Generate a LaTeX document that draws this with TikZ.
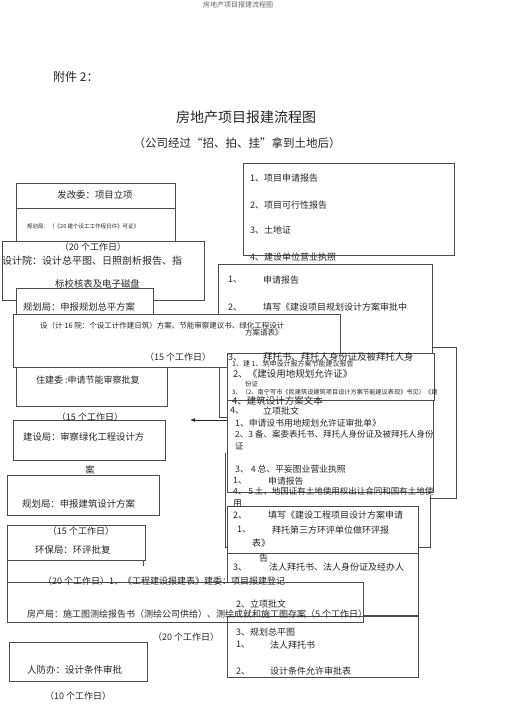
\documentclass[tikz,border=0pt]{standalone}
\usepackage{fontspec}
\setmainfont{Noto Sans CJK SC}
\usetikzlibrary{fit,arrows.meta}

\begin{document}
\begin{tikzpicture}[
  x=1pt, y=-1pt,
  box/.style={draw=black!70, line width=0.7pt, fill=white, inner sep=0pt},
  openbox/.style={box, fill=none},
  edge/.style={draw=black!70, line width=0.7pt},
  lbl/.style={anchor=west, inner sep=0pt, text=black!85, font=\fontsize{9}{10}\selectfont},
  lblc/.style={lbl, anchor=center},
  fs/.style={font=\fontsize{#1}{#1}\selectfont},
  arr/.style={draw=black!85, line width=0.8pt, -{Latex[length=5pt,width=4pt]}}
]

  \fill[white] (0,0) rectangle (505,714);
  \useasboundingbox (0,0) rectangle (505,714);

  % left column, top
  \node[box, fit={(16,183) (175,208)}] (fgw) {};
  \node[box, fit={(16,208) (175,245)}] (ghjA) {};
  \node[box, fit={(2,241) (204,300)}] (sjy) {};
  \node[box, fit={(16,288) (153,320)}] (ghjB) {};

  % right column, top
  \node[box, fit={(243,163) (454,255)}] (docs) {};
  \draw[edge] (219,367) |- (227,417);
  \draw[edge] (432,347) -| (456,498) -- (430,498);
  \node[box, fit={(218,264) (432,353)}] (sqA) {};
  \node[box, fit={(13,314) (340,367)}] (sjyB) {};
  \node[box, fit={(227,353) (434,400)}] (jnA) {};
  \node[box, fit={(227,400) (433,492)}] (lx) {};
  \draw[edge] (225,453) |- (430,547) -- (430,495);
  \node[box, fit={(227,506) (418,553)}] (hp) {};
  \node[box, fit={(227,553) (418,615)}] (frA) {};

  % left column, lower
  \node[box, fit={(16,367) (167,406)}] (zjw) {};
  \node[box, fit={(13,420) (165,460)}] (jsj) {};
  \node[box, fit={(7,475) (159,515)}] (ghjC) {};
  \node[box, fit={(7,525) (145,560)}] (hbj) {};
  \draw[edge] (143,566) |- (7,560) -- (7,603);
  \node[box, fit={(7,582) (363,622)}] (fcj) {};
  \node[openbox, fit={(227,616) (418,677)}] (ghzp) {};
  \node[box, fit={(9,642) (147,681)}] (rfb) {};

  \coordinate (arrEnd) at (190,420);
  \draw[arr] (lx.west |- arrEnd) -- (arrEnd);

  % heading
  \node[lblc, fs=7, text=black!60] (hdr) at (238,5) {房地产项目报建流程图};
  \node[lbl, fs=12] (att) at (53,77) {附件 2：};
  \node[lblc, fs=14] (ttl) at (246,117) {房地产项目报建流程图};
  \node[lblc, fs=11.5] (sub) at (237,143) {（公司经过“招、拍、挂”拿到土地后）};

  % texts, right column
  \node[lbl] (docs1) at (250,178) {1、项目申请报告};
  \node[lbl] (docs2) at (250,205) {2、项目可行性报告};
  \node[lbl] (docs3) at (250,230) {3、土地证};
  \node[lbl] (docs4) at (250,257) {4、建设单位营业执照};

  \node[lbl] (sqA1n) at (228,280) {1、};
  \node[lbl] (sqA1) at (263,280) {申请报告};
  \node[lbl] (sqA2n) at (228,307) {2、};
  \node[lbl] (sqA2) at (263,307) {填写《建设项目规划设计方案审批中};
  \node[lbl] (sqA3n) at (228,357) {3、};
  \node[lbl, fs=9.4] (sqA3) at (263,357) {拜托书、拜托人身份证及被拜托人身};

  \node[lbl, fs=7] (jnA1) at (232,364) {1、建 1、筑申设计报方案节能建议报告};
  \node[lbl, fs=9.5] (jnA2) at (233,374) {2、《建设用地规划允许证》};
  \node[lbl, fs=6.5] (jnA3) at (245,384) {份证};
  \node[lbl, fs=6.2] (jnA4) at (232,392) {3、（2、南宁写市《民建筑设建筑项目设计方案节能建议表现》书见）《建};

  \node[lbl, fs=9.5] (lx0) at (232,401) {4、建筑设计方案文本};
  \node[lbl] (lx1n) at (230,411) {4、};
  \node[lbl] (lx1) at (263,411) {立项批文};
  \node[lbl, fs=8.8] (lx2) at (235,423) {1、申请设书用地规划允许证审批单》};
  \node[lbl, fs=8.5] (lx3) at (235,434) {2、3 备、案委表托书、拜托人身份证及被拜托人身份};
  \node[lbl, fs=8.5] (lx3b) at (235,446) {证};
  \node[lbl, fs=8.8] (lx4) at (235,469) {3、 4 总、平妄图业营业执照};
  \node[lbl, fs=8.8] (lx5n) at (233,481) {1、};
  \node[lbl, fs=8.8] (lx5) at (268,481) {申请报告};
  \node[lbl, fs=8.5] (lx6) at (233,491) {4、 5 土、地国证有土地使用权出让合同和国有土地使};
  \node[lbl, fs=8.8] (lx6b) at (233,503) {用};

  \node[lbl] (hp1n) at (233,515) {2、};
  \node[lbl] (hp1) at (268,515) {填写《建设工程项目设计方案申请};
  \node[lbl] (hp2n) at (237,530) {1、};
  \node[lbl] (hp2) at (272,530) {拜托第三方环评单位做环评报};
  \node[lbl] (hp3) at (252,543) {表》};
  \node[lbl] (frA0) at (259,558) {告};
  \node[lbl] (frA1n) at (233,567) {3、};
  \node[lbl] (frA1) at (269,567) {法人拜托书、法人身份证及经办人};

  \node[lbl] (ghzp1) at (236,632) {3、规划总平图};
  \node[lbl] (ghzp2n) at (236,645) {1、};
  \node[lbl] (ghzp2) at (270,645) {法人拜托书};
  \node[lbl] (ghzp3n) at (236,671) {2、};
  \node[lbl] (ghzp3) at (270,671) {设计条件允许审批表};

  % texts, left column
  \node[lblc, fs=9.4] (fgw1) at (95,195) {发改委：项目立项};
  \node[lbl, fs=5.5] (ghjA1) at (27,226) {规划局：（《20 建个设工工作程日许》可证》};
  \node[lblc] (sjy0) at (93,247) {（20 个工作日）};
  \node[lbl, fs=10] (sjy1) at (2,261) {设计院：设计总平图、日照剖析报告、指};
  \node[lbl, fs=9.4] (sjy2) at (55,284) {标校核表及电子磁盘};
  \node[lbl, fs=9.3] (ghjB1) at (23,307) {规划局：申报规划总平方案};
  \node[lbl, fs=7.5] (sjyB1) at (40,326) {设（计 16 院：个设工计作建日筑）方案、节能审察建议书、绿化工程设计};
  \node[lbl, fs=7.5] (sjyB2) at (245,333) {方案请表》};
  \node[lbl] (sjyB3) at (145,357) {（15 个工作日）};
  \node[lbl] (zjw1) at (36,380) {住建委 :申请节能审察批复};
  \node[lblc] (zjw2) at (90,417) {（15 个工作日）};
  \node[lbl, fs=9.3] (jsj1) at (23,437) {建设局：审察绿化工程设计方};
  \node[lblc, fs=9.3] (jsj2) at (90,470) {案};
  \node[lbl, fs=9.4] (ghjC1) at (22,504) {规划局：申报建筑设计方案};
  \node[lblc] (hbj0) at (81,531) {（15 个工作日）};
  \node[lbl, fs=9.4] (hbj1) at (35,550) {环保局：环评批复};
  \node[lbl] (fcj0) at (43,581) {（20 个工作日）1、《工程建设报建表》建委：项目报建登记};
  \node[lbl] (fcj1) at (236,604) {2、立项批文};
  \node[lbl] (fcj2) at (27,614) {房产局：施工图测绘报告书（测绘公司供给）、测绘成就和施工图存案（5 个工作日）};
  \node[lbl] (rfb0) at (153,637) {（20 个工作日）};
  \node[lbl, fs=9.5] (rfb1) at (27,670) {人防办：设计条件审批};
  \node[lbl] (rfb2) at (45,696) {（10 个工作日）};

\end{tikzpicture}
\end{document}
